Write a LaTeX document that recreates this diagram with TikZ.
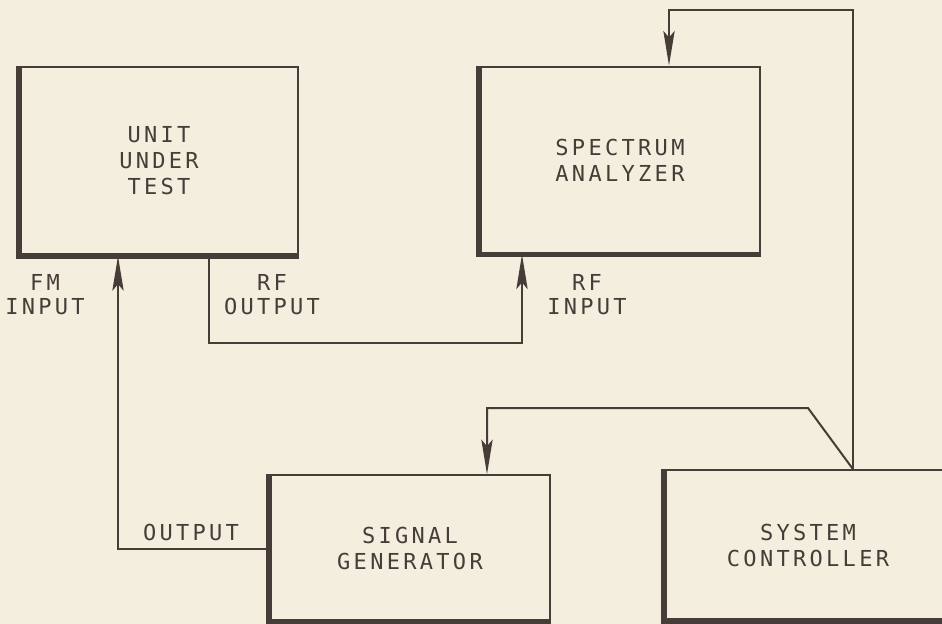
\documentclass[tikz,border=0pt]{standalone}
\usepackage{fontspec}
\usepackage{tikz}
\usetikzlibrary{arrows.meta}
\newfontfamily\plotfont{DejaVu Sans Mono}[LetterSpace=15]
\definecolor{paper}{RGB}{244,238,222}
\definecolor{ink}{RGB}{70,60,56}

\begin{document}
\begin{tikzpicture}[x=0.75pt, y=-0.75pt,
    box/.style={rectangle, draw=ink, line width=1.7pt, align=center, text=ink,
        font=\plotfont\fontsize{16.5}{19.5}\selectfont},
    lbl/.style={align=center, text=ink, font=\plotfont\fontsize{16.5}{18}\selectfont},
    edge/.style={draw=ink, line width=4.2pt},
    wire/.style={draw=ink, line width=1.5pt},
    >={Stealth[length=26pt, width=8.5pt, inset=5pt]}]

    \fill[paper] (0,0) rectangle (942,624);
    \useasboundingbox (0,0) rectangle (942,624);
    \clip (0,0) rectangle (942,624);

    % Instruments
    \node[box, minimum width=208pt, minimum height=141pt] (uut) at (159,161) {UNIT\\UNDER\\TEST};
    \node[box, minimum width=210pt, minimum height=140pt] (sa) at (620,160) {SPECTRUM\\ANALYZER};
    \node[box, minimum width=210pt, minimum height=109pt] (sg) at (410,548) {SIGNAL\\GENERATOR};
    \node[box, minimum width=214pt, minimum height=112pt] (sc) at (808,545) {SYSTEM\\CONTROLLER};

    % Heavy left and bottom edges
    \foreach \b in {uut,sa,sg,sc}
        \draw[edge] (\b.north west) -- (\b.south west) -- (\b.south east);

    % Port labels
    \node[lbl] (fmlbl) at (45,295) {FM\\INPUT};
    \node[lbl] (rfoutlbl) at (272,295) {RF\\OUTPUT};
    \node[lbl] (rfinlbl) at (587,295) {RF\\INPUT};
    \node[lbl] (outlbl) at (191,532) {OUTPUT};

    % Bends of the wiring
    \coordinate (ctlbus) at (853,10);
    \coordinate (satap) at (669,10);
    \coordinate (sgbend) at (808,408);
    \coordinate (sgtap) at (487,408);
    \coordinate (fmin) at (118,549);
    \coordinate (rfout) at (209,343);
    \coordinate (rfin) at (522,343);

    \draw[wire, ->] (sc.north -| ctlbus) -- (ctlbus) -- (satap) -- (sa.north -| satap);
    \draw[wire, ->] (sc.north -| ctlbus) -- (sgbend) -- (sgtap) -- (sg.north -| sgtap);
    \draw[wire, ->] (sg.west |- fmin) -- (fmin) -- (uut.south -| fmin);
    \draw[wire, ->] (uut.south -| rfout) -- (rfout) -- (rfin) -- (sa.south -| rfin);
\end{tikzpicture}
\end{document}
